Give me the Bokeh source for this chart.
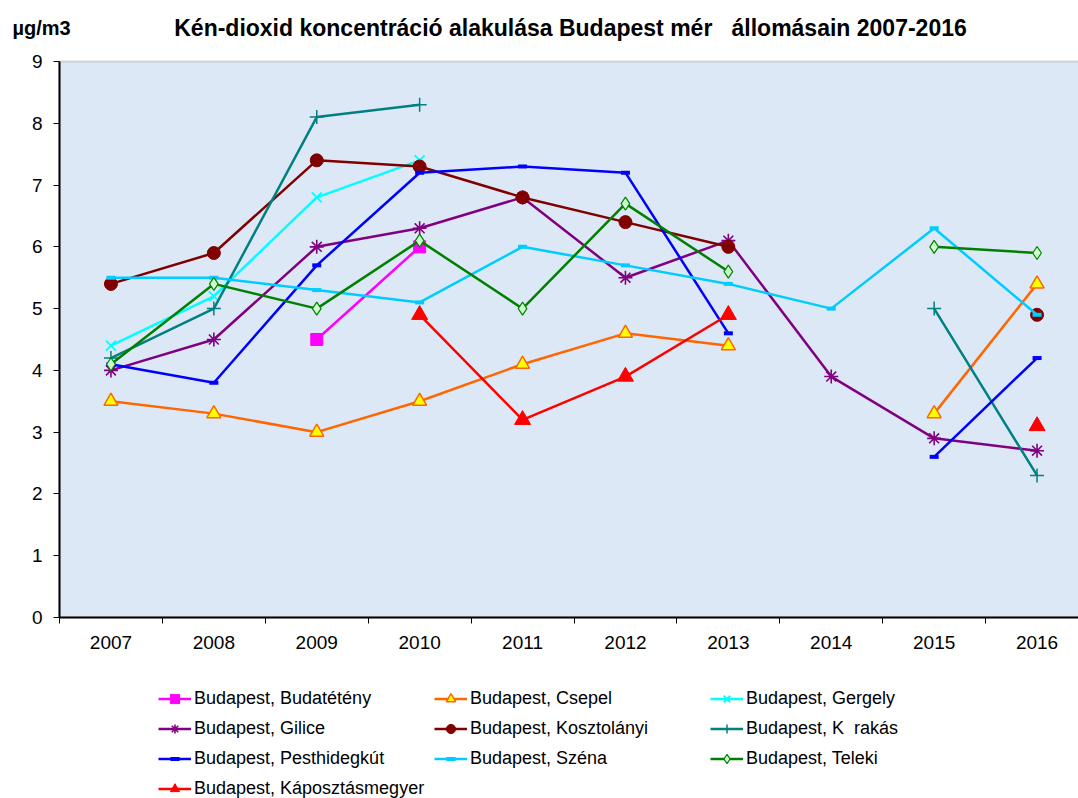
import numpy as np
from bokeh.plotting import figure
from bokeh.models import (FixedTicker, Range1d, Legend, LegendItem, Label,
                          BoxAnnotation)
from bokeh.embed import file_html
from bokeh.resources import INLINE

years = [2007, 2008, 2009, 2010, 2011, 2012, 2013, 2014, 2015, 2016]
year_labels = ["2007", "2008", "2009", "2010", "2011", "2012", "2013", "2014", "2015", "2016"]

budateteny      = [None, None, 4.5, 6.0, None, None, None, None, None, None]
csepel          = [3.5, 3.3, 3.0, 3.5, 4.1, 4.6, 4.4, None, 3.3, 5.4]
gergely         = [4.4, 5.2, 6.8, 7.4, None, None, None, None, None, None]
gilice          = [4.0, 4.5, 6.0, 6.3, 6.8, 5.5, 6.1, 3.9, 2.9, 2.7]
kosztolanyi     = [5.4, 5.9, 7.4, 7.3, 6.8, 6.4, 6.0, None, None, 4.9]
korakas         = [4.2, 5.0, 8.1, 8.3, None, None, None, None, 5.0, 2.3]
pesthidegkut    = [4.1, 3.8, 5.7, 7.2, 7.3, 7.2, 4.6, None, 2.6, 4.2]
szena           = [5.5, 5.5, 5.3, 5.1, 6.0, 5.7, 5.4, 5.0, 6.3, 4.9]
teleki          = [4.1, 5.4, 5.0, 6.1, 5.0, 6.7, 5.6, None, 6.0, 5.9]
kaposztasmegyer = [None, None, None, 4.9, 3.2, 3.9, 4.9, None, None, 3.1]

title_text = "Kén-dioxid koncentráció alakulása Budapest mér\u00a0\u00a0 állomásain 2007-2016"
unit_text = "µg/m3"

FONT = "Liberation Sans"
W, H = 1078, 798

# plot-area geometry (pixels in the page)
AREA_LEFT, AREA_TOP, AREA_BOTTOM = 59, 61, 617
CAT_W = 102.9                       # pixel width of one year category
UNIT_H = (AREA_BOTTOM - AREA_TOP) / 9.0
X0 = years[0] - 0.5                 # left edge of the plot area (data)
x_start = X0 - AREA_LEFT / CAT_W
x_end = x_start + W / CAT_W
y_start = -(H - AREA_BOTTOM) / UNIT_H
y_end = AREA_BOTTOM / UNIT_H
X_RIGHT = years[-1] + 0.5


def arr(v):
    return np.array([np.nan if a is None else a for a in v], dtype=float)


p = figure(width=W, height=H, output_backend="svg", toolbar_location=None,
           x_range=Range1d(x_start, x_end), y_range=Range1d(y_start, y_end),
           min_border=0, min_border_left=0, min_border_right=0,
           min_border_top=0, min_border_bottom=0)
p.background_fill_color = "white"
p.border_fill_color = "white"
p.outline_line_color = None

# plot area background + grey top border
p.add_layout(BoxAnnotation(left=X0, right=X_RIGHT + 0.3, bottom=0, top=9,
                           fill_color="#dce8f6", fill_alpha=1.0,
                           line_color="#8c8c8c", line_width=2, level="underlay"))

xa = p.xaxis[0]
xa.fixed_location = 0
xa.bounds = (X0, X_RIGHT)
xa.ticker = FixedTicker(ticks=years, minor_ticks=[y - 0.5 for y in years] + [X_RIGHT])
xa.major_label_overrides = {y: l for y, l in zip(years, year_labels)}
xa.major_tick_out = 0
xa.major_tick_in = 0
xa.minor_tick_out = 6
xa.minor_tick_in = 0
xa.minor_tick_line_color = "black"
xa.axis_line_color = "black"
xa.axis_line_width = 2
xa.major_label_text_font = FONT
xa.major_label_text_font_size = "19px"
xa.major_label_text_color = "black"
xa.major_label_standoff = 12

ya = p.yaxis[0]
ya.fixed_location = X0
ya.bounds = (0, 9)
ya.ticker = FixedTicker(ticks=list(range(0, 10)), minor_ticks=[])
ya.major_tick_out = 6
ya.major_tick_in = 0
ya.major_tick_line_color = "black"
ya.axis_line_color = "black"
ya.axis_line_width = 2
ya.major_label_text_font = FONT
ya.major_label_text_font_size = "19px"
ya.major_label_text_color = "black"
ya.major_label_standoff = 11

p.xgrid.visible = False
p.ygrid.ticker = FixedTicker(ticks=list(range(1, 9)))
p.ygrid.cross_bounds = (X0, X_RIGHT + 0.3)
p.ygrid.grid_line_color = "black"
p.ygrid.grid_line_width = 1.2

series = [
    ("Budapest, Budatétény", budateteny, "#FF00FF", dict(marker="square", size=12, fill_color="#FF00FF", line_color="#FF00FF")),
    ("Budapest, Csepel", csepel, "#FF6600", dict(marker="triangle", size=14, fill_color="#FFFF00", line_color="#FF6600", line_width=1.5)),
    ("Budapest, Gergely", gergely, "#00FFFF", dict(marker="x", size=14, line_color="#00FFFF", line_width=1.8)),
    ("Budapest, Gilice", gilice, "#800080", dict(marker="asterisk", size=14, line_color="#800080", line_width=1.6)),
    ("Budapest, Kosztolányi", kosztolanyi, "#800000", dict(marker="circle", size=13, fill_color="#800000", line_color="#800000")),
    ("Budapest, K\u00a0\u00a0rakás", korakas, "#008080", dict(marker="cross", size=14, line_color="#008080", line_width=1.5)),
    ("Budapest, Pesthidegkút", pesthidegkut, "#0000FF", dict(marker="dash", size=9, line_color="#0000FF", line_width=4)),
    ("Budapest, Széna", szena, "#00CCFF", dict(marker="dash", size=9, line_color="#00CCFF", line_width=4)),
    ("Budapest, Teleki", teleki, "#008000", dict(marker="diamond", size=13, fill_color="#CCFFCC", line_color="#008000", line_width=1.2)),
    ("Budapest, Káposztásmegyer", kaposztasmegyer, "#FF0000", dict(marker="triangle", size=16, fill_color="#FF0000", line_color="#FF0000")),
]

items = []
for name, vals, color, mk in series:
    y = arr(vals)
    r1 = p.line(years, y, line_color=color, line_width=2.5)
    r2 = p.scatter(years, y, **mk)
    items.append(LegendItem(label=name, renderers=[r1, r2]))

ROW_H, ROW_GAP = 23, 7
legend_h = 4 * ROW_H + 3 * ROW_GAP
legend_top = 698 - ROW_H / 2
legend = Legend(items=items, location=(158, H - legend_top - legend_h),
                orientation="horizontal", ncols=3,
                padding=0, margin=0, spacing=ROW_GAP, glyph_width=33, glyph_height=ROW_H,
                label_height=ROW_H, label_width=233, label_standoff=3,
                label_text_font=FONT, label_text_font_size="18px",
                label_text_color="black",
                border_line_color=None, background_fill_alpha=0)
p.add_layout(legend)

p.add_layout(Label(x=570, y=H - 27, x_units="screen", y_units="screen", text=title_text,
                   text_align="center", text_baseline="middle", text_font=FONT,
                   text_font_style="bold", text_font_size="23px", text_color="black"))
p.add_layout(Label(x=12, y=H - 27, x_units="screen", y_units="screen", text=unit_text,
                   text_align="left", text_baseline="middle", text_font=FONT,
                   text_font_style="bold", text_font_size="20px", text_color="black"))

open("out.html", "w").write(file_html(p, INLINE))
